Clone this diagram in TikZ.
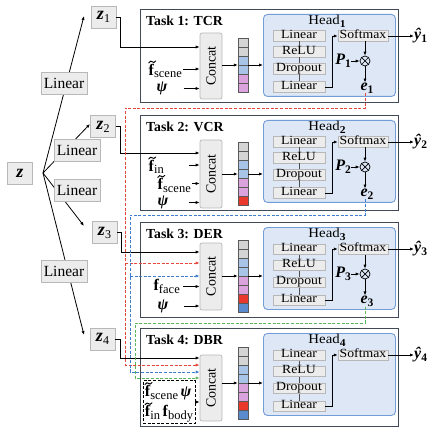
\RequirePackage{fix-cm}
\documentclass[tikz,border=0pt]{standalone}
\usepackage{amsmath}
\usepackage{fontspec}
\setmainfont{Liberation Serif}
\newfontfamily\hdfont[FakeStretch=1.1]{Liberation Serif}
\usetikzlibrary{arrows.meta,calc}
\definecolor{boxgray}{HTML}{ECECEC}
\definecolor{boxedge}{HTML}{B8B8B8}
\definecolor{taskedge}{HTML}{404B57}
\definecolor{headfill}{HTML}{DDE7F5}
\definecolor{headedge}{HTML}{739DD7}
\definecolor{cgray}{HTML}{D4D4D4}
\definecolor{cblue}{HTML}{A8C5E7}
\definecolor{cpink}{HTML}{DBA3DD}
\definecolor{cred}{HTML}{E8392C}
\definecolor{csteel}{HTML}{5B8BCF}
\definecolor{dred}{HTML}{E5473D}
\definecolor{dblue}{HTML}{3F7ECF}
\definecolor{dgreen}{HTML}{5AB65C}
\newcommand\szL{\fontsize{15.5}{18}\selectfont}
\newcommand\szT{\fontsize{13.8}{16}\selectfont}
\newcommand\szC{\fontsize{14}{16}\selectfont}
\newcommand\szH{\fontsize{12.5}{12.5}\selectfont\hdfont}
\newcommand\szHd{\fontsize{13.5}{14}\selectfont\hdfont}
\newcommand\szI{\fontsize{16}{18}\selectfont}
\newcommand\bi[1]{{\bfseries\itshape #1}}
\newcommand\mysb[1]{\raisebox{-2.5pt}{\fontsize{12.5}{12}\selectfont #1}}
\newcommand\bsb[1]{\raisebox{-3pt}{\fontsize{11.5}{12}\selectfont\bfseries #1}}
\newcommand\nsb[1]{\raisebox{-3pt}{\fontsize{12}{12}\selectfont #1}}
\newcommand\ftl{\leavevmode\rlap{\raisebox{12.2pt}{\kern-0.3pt\tikz[x=1pt,y=1pt,baseline=0pt]\draw[line width=0.95pt,line cap=round] (0,0) .. controls (1.3,2.2) and (2.6,2.0) .. (3.6,1.1) .. controls (4.6,0.2) and (5.8,0.1) .. (7,2);}}\textbf{f}}
\begin{document}
\begin{tikzpicture}[x=1pt,y=-1pt,
  arr/.style={-{Latex[length=4pt,width=3.2pt]}, line width=0.8pt},
  gbox/.style={draw=boxedge, fill=boxgray, line width=0.7pt, inner sep=0pt},
  zbox/.style={gbox, minimum width=25pt, minimum height=22pt, font=\fontsize{18}{18}\selectfont},
  linbox/.style={gbox, minimum width=46pt, minimum height=22pt, font=\szL},
  taskbox/.style={draw=taskedge, line width=1.3pt, inner sep=0pt, anchor=north west, minimum width=258pt},
  tasktitle/.style={font=\szT\bfseries, anchor=west, inner sep=0pt},
  concatbox/.style={gbox, rounded corners=2pt, rotate=90, minimum height=22pt, font=\szC},
  cell/.style={draw=black!65, line width=0.5pt},
  barnode/.style={minimum width=10pt, inner sep=0pt},
  headbox/.style={draw=headedge, fill=headfill, line width=0.9pt, rounded corners=4pt, minimum width=132pt, minimum height=82pt, anchor=north west, inner sep=0pt},
  hbox/.style={gbox, line width=0.5pt, minimum width=52pt, minimum height=10.5pt, text height=7.5pt, text depth=2pt, font=\szH},
  smbox/.style={hbox, minimum width=50pt},
  inlab/.style={font=\szI, inner sep=0pt},
  otimes/.style={circle, draw, line width=0.7pt, minimum size=10pt, inner sep=0pt,
    path picture={\draw[line width=0.7pt] (path picture bounding box.south west) -- (path picture bounding box.north east) (path picture bounding box.north west) -- (path picture bounding box.south east);}},
  dsh/.style={dash pattern=on 3pt off 1.6pt, line width=0.9pt},
  reddash/.style={dsh, draw=dred, -{Latex[length=4pt,width=3.2pt]}},
  bluedash/.style={dsh, draw=dblue, -{Latex[length=4pt,width=3.2pt]}},
  greendash/.style={dsh, draw=dgreen, -{Latex[length=4pt,width=3.2pt]}}
]
\useasboundingbox (0,0) rectangle (433,430);

% ---------- left part ----------
\node[zbox] (z) at (20,173) {\bi{z}};
\coordinate (fork) at (43,173);
\node[zbox] (z1) at (103.5,17) {\bi{z}\nsb{1}};
\node[zbox] (z2) at (103,126.5) {\bi{z}\nsb{2}};
\node[zbox] (z3) at (104.5,232.5) {\bi{z}\nsb{3}};
\node[zbox] (z4) at (102.5,339) {\bi{z}\nsb{4}};
\coordinate (t1) at (84,16);
\coordinate (t2) at (90,124);
\coordinate (t3) at (84,226);
\coordinate (t4) at (84,335);
\draw[arr] (fork) -- (t1);
\draw[arr] (fork) -- (t2);
\draw[arr] (fork) -- (t3);
\draw[arr] (fork) -- (t4);
\node[linbox] (L1) at (64,83) {Linear};
\node[linbox] (L2) at (77,150) {Linear};
\node[linbox] (L3) at (77,190) {Linear};
\node[linbox] (L4) at (64,271) {Linear};

% ---------- task boxes ----------
\node[taskbox, minimum height=93pt] (T1) at (140,9) {};
\node[taskbox, minimum height=95pt] (T2) at (140,115) {};
\node[taskbox, minimum height=95pt] (T3) at (140,222) {};
\node[taskbox, minimum height=98pt] (T4) at (140,328) {};
\node[tasktitle] (tt1) at (146,21) {Task 1: TCR};
\node[tasktitle] (tt2) at (146,127) {Task 2: VCR};
\node[tasktitle] (tt3) at (146,234) {Task 3: DER};
\node[tasktitle] (tt4) at (146,340) {Task 4: DBR};

% ---------- concat ----------
\node[concatbox, minimum width=66pt] (c1) at (211,66) {Concat};
\node[concatbox, minimum width=68pt] (c2) at (211,174) {Concat};
\node[concatbox, minimum width=67pt] (c3) at (211,276.5) {Concat};
\node[concatbox, minimum width=66pt] (c4) at (211,388) {Concat};

% ---------- feature bars ----------
\foreach \c [count=\k from 0] in {cgray,cgray,cblue,cblue,cpink,cpink}
  \draw[cell, fill=\c] (238,38+9*\k) rectangle ++(10,9);
\node[barnode, minimum height=54pt] (b1) at (243,65) {};
\foreach \c [count=\k from 0] in {cgray,cgray,cblue,cblue,cpink,cpink,cred}
  \draw[cell, fill=\c] (238,142.5+9*\k) rectangle ++(10,9);
\node[barnode, minimum height=63pt] (b2) at (243,174) {};
\foreach \c [count=\k from 0] in {cgray,cgray,cblue,cblue,cpink,cpink,cred,csteel}
  \draw[cell, fill=\c] (238,240+9*\k) rectangle ++(10,9);
\node[barnode, minimum height=72pt] (b3) at (243,276) {};
\foreach \c [count=\k from 0] in {cgray,cgray,cblue,cblue,cpink,cpink,cred,csteel}
  \draw[cell, fill=\c] (238,347+9*\k) rectangle ++(10,9);
\node[barnode, minimum height=72pt] (b4) at (243,383) {};

% ---------- heads ----------
\foreach \i/\H in {1/14,2/120,3/227,4/333}{
  \node[headbox] (head\i) at (263,\H) {};
  \node[font=\szHd, inner sep=0pt] (hl\i) at (327,\H+7.5) {Head\raisebox{-2.5pt}{\fontsize{10.5}{10}\selectfont\bfseries\i}};
  \node[hbox] (la\i) at (299,\H+22) {Linear};
  \node[hbox] (re\i) at (299,\H+38) {ReLU};
  \node[hbox] (dr\i) at (299,\H+55) {Dropout};
  \node[hbox] (lb\i) at (299,\H+73) {Linear};
  \draw[line width=0.6pt, black!70] (la\i.south) -- (re\i.north) (re\i.south) -- (dr\i.north) (dr\i.south) -- (lb\i.north);
  \node[smbox] (sm\i) at (363,\H+22) {Softmax};
  \draw[arr] (lb\i.east) -- ++(7,0) |- (sm\i.west);
  \node[inlab, anchor=west] (y\i) at (414,\H+22) {\bi{ŷ}\bsb{\i}};
  \draw[arr] (sm\i.east) -- (y\i.west);
  \ifnum\i<4
    \node[otimes] (ot\i) at (365,\H+47) {};
    \node[inlab, anchor=east] (P\i) at (351,\H+47) {\bi{P}\bsb{\i}};
    \node[inlab] (e\i) at (367,\H+74) {\bi{e}\bsb{\i}};
    \draw[arr] (sm\i.south -| ot\i) -- (ot\i.north);
    \draw[arr] (P\i.east) -- (ot\i.west);
    \draw[arr] (ot\i.south) -- (e\i.north -| ot\i);
  \fi
}

% concat -> bar -> head
\foreach \i in {1,2,3,4}{
  \draw[arr] (b\i.west -| c\i.south) -- (b\i.west);
  \draw[arr] (b\i.east) -- (b\i.east -| head\i.west);
}

% ---------- z_i -> concat ----------
\coordinate (k1) at (120,47);
\coordinate (k2) at (120,153);
\coordinate (k3) at (121,252);
\coordinate (k4) at (120,358);
\draw[arr] (z1.east) -| (k1) -- (k1 -| c1.north);
\draw[arr] (z2.east) -| (k2) -- (k2 -| c2.north);
\draw[arr] (z3.east) -| (k3) -- (k3 -| c3.north);
\draw[arr] (z4.east) -| (k4) -- (k4 -| c4.north);

% ---------- inputs ----------
\node[inlab, anchor=east] (fs1) at (182,69) {\ftl\mysb{scene}};
\draw[arr, shorten <=1pt] (fs1.east) -- (fs1.east -| c1.north);
\node[inlab] (p1) at (162,88.5) {\bi{ψ}};
\draw[arr, shorten <=16pt] (p1.east) -- (p1.east -| c1.north);

\node[inlab, anchor=east] (fi2) at (164,165) {\ftl\mysb{in}};
\draw[arr, shorten <=25pt] (fi2.east) -- (fi2.east -| c2.north);
\node[inlab, anchor=east] (fs2) at (191,183.5) {\ftl\mysb{scene}};
\draw[arr, shorten <=1pt] (fs2.east) -- (fs2.east -| c2.north);
\node[inlab] (p2) at (163,202.5) {\bi{ψ}};
\draw[arr, shorten <=20pt] (p2.east) -- (p2.east -| c2.north);

\node[inlab, anchor=east] (ff3) at (180,286.5) {\textbf{f}\mysb{face}};
\draw[arr, shorten <=3pt] (ff3.east) -- (ff3.east -| c3.north);
\node[inlab] (p3) at (163,306) {\bi{ψ}};
\draw[arr, shorten <=15pt] (p3.east) -- (p3.east -| c3.north);

\node[draw, dash pattern=on 3pt off 1.6pt, line width=0.9pt, minimum width=52pt, minimum height=40pt, inner sep=1pt, align=left, font=\szI] (d4) at (169,402)
  {\ftl\mysb{scene}\,\bi{ψ}\\[1pt]\ftl\mysb{in}\,\textbf{f}\mysb{body}};
\draw[arr] (d4.east) -- (d4.east -| c4.north);

% ---------- dashed routes ----------
\coordinate (rA) at (125,108);
\coordinate (r3) at (125,263);
\coordinate (r4) at (125,365);
\draw[reddash] (e1.south -| ot1) |- (rA) |- (r4 -| c4.north);
\draw[reddash] (r3) -- (r3 -| c3.north);

\coordinate (bA) at (130,215);
\coordinate (bl3) at (130,276);
\coordinate (bl4) at (130,372);
\draw[bluedash] (e2.south -| ot2) |- (bA) |- (bl4 -| c4.north);
\draw[bluedash] (bl3) -- (bl3 -| c3.north);

\coordinate (gA) at (135,323);
\coordinate (g4) at (135,378);
\draw[greendash] (e3.south -| ot3) |- (gA) |- (g4 -| c4.north);
\end{tikzpicture}
\end{document}
